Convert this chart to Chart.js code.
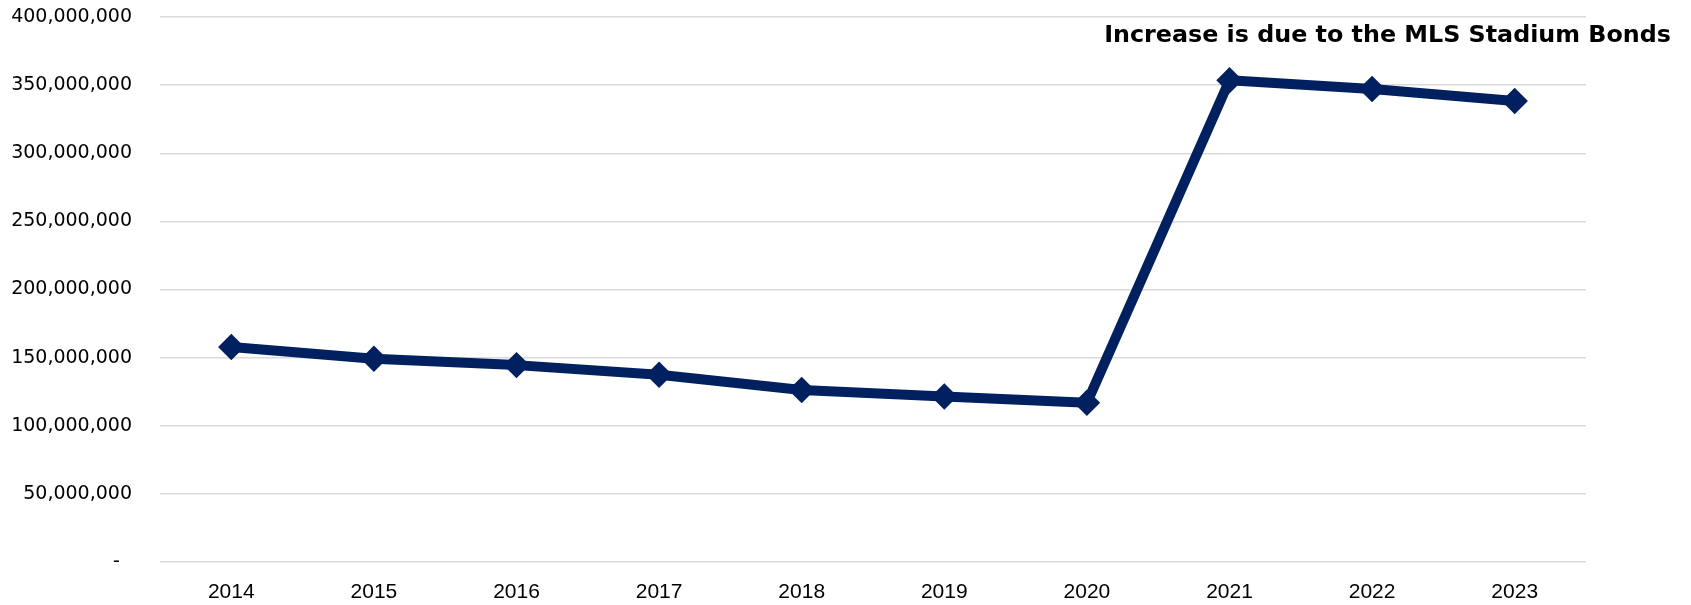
<!DOCTYPE html>
<html>
<head>
<meta charset="utf-8">
<script src="https://cdn.jsdelivr.net/npm/chart.js@4/dist/chart.umd.min.js"></script>
<style>
  html, body { margin: 0; padding: 0; background: #fff; }
  #wrap { width: 1691px; height: 605px; position: relative; }
</style>
</head>
<body>
<div id="wrap"><canvas id="debtChart"></canvas></div>
<script>
// Outstanding debt by fiscal year
const years = ['2014', '2015', '2016', '2017', '2018', '2019', '2020', '2021', '2022', '2023'];
const debtValues = [157800000, 149100000, 144500000, 137400000, 126300000, 121500000, 116800000, 353500000, 347200000, 338400000];
const yTicks = [0, 50000000, 100000000, 150000000, 200000000, 250000000, 300000000, 350000000, 400000000];
const noteText = 'Increase is due to the MLS Stadium Bonds';

const navy = '#002060';

// Draws the note in the top right corner
const notePlugin = {
    id: 'note',
    afterDraw(chart) {
        const ctx = chart.ctx;
        ctx.save();
        ctx.font = "bold 23.8px 'DejaVu Sans', Verdana, sans-serif";
        ctx.fillStyle = '#000';
        ctx.textAlign = 'right';
        ctx.textBaseline = 'middle';
        ctx.fillText(noteText, chart.width - 20, 36);
        ctx.restore();
    }
};

const ctx = document.getElementById('debtChart').getContext('2d');
new Chart(ctx, {
    type: 'line',
    data: {
        labels: years,
        datasets: [{
            data: debtValues,
            borderColor: navy,
            backgroundColor: navy,
            borderWidth: 10,
            tension: 0,
            pointStyle: 'rectRot',
            pointRadius: 9,
            pointHoverRadius: 9,
            pointBorderWidth: 6,
            pointBackgroundColor: navy,
            pointBorderColor: navy,
            borderJoinStyle: 'round',
            borderCapStyle: 'round'
        }]
    },
    options: {
        responsive: true,
        maintainAspectRatio: false,
        animation: false,
        layout: { padding: { top: 17, left: 11, right: 105, bottom: 0 } },
        plugins: {
            legend: { display: false },
            tooltip: { enabled: false }
        },
        elements: {
            point: { borderJoinStyle: 'round' }
        },
        scales: {
            x: {
                offset: true,
                grid: { display: false, drawTicks: false },
                border: { display: false },
                afterFit(scale) {
                    scale.height = 43;
                    scale.paddingBottom = 0;
                },
                ticks: {
                    padding: 18,
                    color: '#000',
                    maxRotation: 0,
                    font: { family: "'Liberation Sans', Arial, sans-serif", size: 21 }
                }
            },
            y: {
                min: 0,
                max: 400000000,
                afterBuildTicks(scale) {
                    scale.ticks = yTicks.map(v => ({ value: v }));
                },
                afterFit(scale) {
                    scale.width = 149;
                    scale.paddingTop = 0;
                    scale.paddingBottom = 0;
                },
                grid: { color: '#d9d9d9', lineWidth: 1.5, drawTicks: false },
                border: { display: false },
                ticks: {
                    padding: 28,
                    color: '#000',
                    font: { family: "'DejaVu Sans', Verdana, sans-serif", size: 19 },
                    callback: v => v === 0 ? '-  ' : v.toLocaleString('en-US')
                }
            }
        }
    },
    plugins: [notePlugin]
});
</script>
</body>
</html>
